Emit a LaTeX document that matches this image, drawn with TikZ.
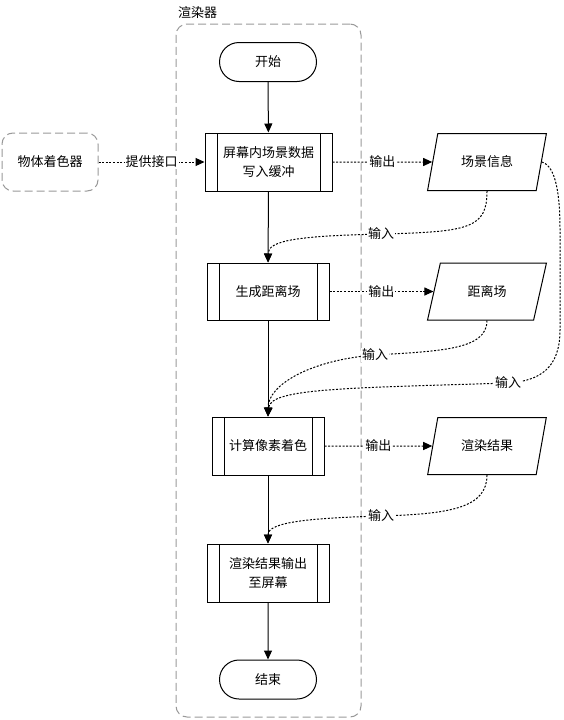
\documentclass[tikz,border=0pt]{standalone}
\usepackage{fontspec}
\setmainfont{Noto Sans CJK SC}
\usetikzlibrary{arrows.meta,shapes.geometric,shapes.misc}
\begin{document}
\begin{tikzpicture}[x=1pt,y=-1pt,
  every node/.style={font=\fontsize{13}{19}\selectfont},
  proc/.style={draw, fill=white, line width=1pt, align=center, inner sep=0pt,
    path picture={
      \draw[line width=1pt] ([xshift=12pt]path picture bounding box.north west) -- ([xshift=12pt]path picture bounding box.south west);
      \draw[line width=1pt] ([xshift=-12pt]path picture bounding box.north east) -- ([xshift=-12pt]path picture bounding box.south east);}},
  term/.style={draw, fill=white, line width=1pt, rounded rectangle, minimum width=97pt, minimum height=39pt, inner sep=0pt},
  data/.style={draw, fill=white, line width=1pt, trapezium, trapezium left angle=66, trapezium right angle=114,
    trapezium stretches=true, minimum width=119pt, minimum height=57pt, inner sep=0pt},
  dashbox/.style={draw=black!40, line width=1pt, dash pattern=on 8pt off 4pt, rounded corners=11pt},
  flow/.style={draw, line width=1pt, -{Triangle[length=9pt,width=8pt]}},
  io/.style={draw, line width=1pt, dash pattern=on 2pt off 1.6pt, -{Triangle[length=9pt,width=8pt]}},
  lbl/.style={fill=white, inner sep=1pt}]
\useasboundingbox (0,0) rectangle (563,720);
% container
\node[dashbox, minimum width=185pt, minimum height=693pt] (box) at (268.5,370.5) {};
\node[anchor=west, inner sep=0pt] (boxlbl) at (178,13) {渲染器};
% nodes
\node[term] (start) at (268,62) {开始};
\node[proc, minimum width=127pt, minimum height=58pt] (p1) at (268.5,162) {屏幕内场景数据\\写入缓冲};
\node[proc, minimum width=122pt, minimum height=57pt] (p2) at (268,291.5) {生成距离场};
\node[proc, minimum width=112pt, minimum height=58pt] (p3) at (268,446) {计算像素着色};
\node[proc, minimum width=122pt, minimum height=58pt] (p4) at (268,573) {渲染结果输出\\至屏幕};
\node[term] (end) at (268,679.5) {结束};
\node[dashbox, fill=white, minimum width=96pt, minimum height=58pt] (obj) at (50,162) {物体着色器};
\node[data] (s1) at (487,162) {场景信息};
\node[data] (s2) at (487,291.5) {距离场};
\node[data] (s3) at (487,446) {渲染结果};
% main flow
\draw[flow] (start) -- (p1);
\draw[flow] (p1) -- (p2);
\draw[flow] (p2) -- (p3);
\draw[flow] (p3) -- (p4);
\draw[flow] (p4) -- (end);
% data flow
\draw[io] (obj) -- node[lbl]{提供接口} (p1);
\draw[io] (p1) -- node[lbl]{输出} (s1);
\draw[io] (p2) -- node[lbl]{输出} (s2);
\draw[io] (p3) -- node[lbl]{输出} (s3);
\draw[io] (s1.south) .. controls (487,228) and (470,232) .. (381,234) node[lbl]{输入}
  .. controls (300,236) and (268,240) .. (p2.north);
\draw[io] (s2.south) .. controls (487,350) and (440,351) .. (375,355) node[lbl]{输入}
  .. controls (310,360) and (268,385) .. (p3.north);
\draw[io] (s1.east) .. controls (556,166) and (560,195) .. (560,230) -- (560,330)
  .. controls (560,368) and (540,381) .. (508,383) node[lbl]{输入}
  .. controls (350,388) and (270,388) .. (p3.north);
\draw[io] (s3.south) .. controls (487,508) and (450,514) .. (381,516) node[lbl]{输入}
  .. controls (310,518) and (268,522) .. (p4.north);
\end{tikzpicture}
\end{document}
